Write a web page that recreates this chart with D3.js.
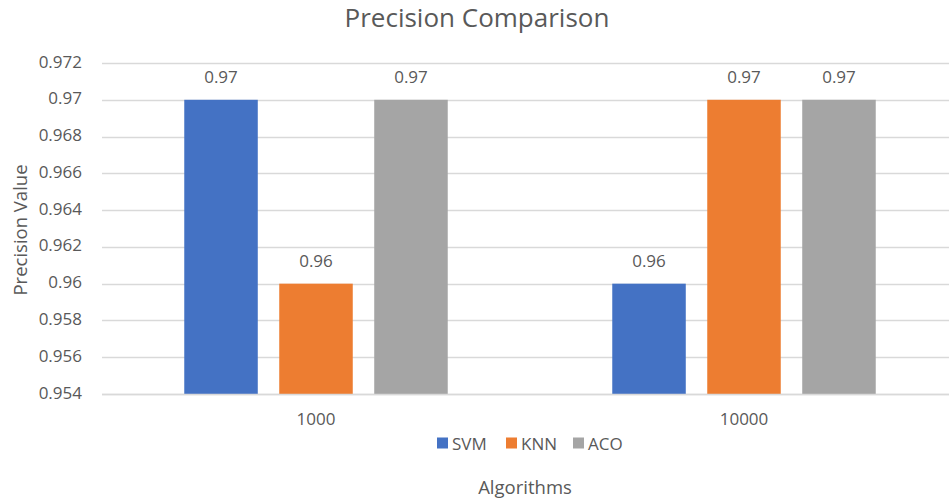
<!DOCTYPE html>
<html><head><meta charset="utf-8">
<script src="https://cdn.jsdelivr.net/npm/d3@7"></script>
<style>body{margin:0;background:#fff;} text{font-family:"Open Sans",sans-serif;}</style>
</head><body><svg id="c" width="949" height="499"></svg>
<script>
const categories = ["1000", "10000"];
const seriesNames = ["SVM", "KNN", "ACO"];
const svmValues = [0.97, 0.96];
const knnValues = [0.96, 0.97];
const acoValues = [0.97, 0.97];
const yTicks = [0.954, 0.956, 0.958, 0.96, 0.962, 0.964, 0.966, 0.968, 0.97, 0.972];
const yTickLabels = ["0.954", "0.956", "0.958", "0.96", "0.962", "0.964", "0.966", "0.968", "0.97", "0.972"];
const colors = ["#4472C4", "#ED7D31", "#A5A5A5"];

(function () {
const values = [svmValues, knnValues, acoValues];
const svg = d3.select("#c");
const pLeft = 102, pRight = 958, pTop = 63, pBottom = 394;
const txt = "#595959";
const fs = "17px";

const x0 = d3.scaleBand().domain(categories).range([pLeft, pRight]).paddingInner(0).paddingOuter(0);
const x1 = d3.scaleBand().domain(seriesNames).range([0, x0.bandwidth()]).paddingInner(0.226).paddingOuter(0.866);
const y = d3.scaleLinear().domain([0.954, 0.972]).range([pBottom, pTop]);

svg.append("g").selectAll("line").data(yTicks).join("line")
  .attr("x1", pLeft).attr("x2", pRight)
  .attr("y1", d => Math.round(y(d)) + 0.5).attr("y2", d => Math.round(y(d)) + 0.5)
  .attr("stroke", "#d9d9d9").attr("stroke-width", 1.3);

const yAxis = d3.axisLeft(y).tickValues(yTicks).tickFormat((d, i) => yTickLabels[i]).tickSize(0).tickPadding(0);
const ga = svg.append("g").attr("transform", `translate(82,0)`).call(yAxis);
ga.select(".domain").remove();
ga.selectAll("text").attr("fill", txt).attr("dy", "4px").style("font-size", fs).style("font-family", '"Open Sans",sans-serif');

const groups = svg.append("g").selectAll("g").data(categories).join("g")
  .attr("transform", d => `translate(${x0(d)},0)`);
groups.each(function(cat, ci) {
  const g = d3.select(this);
  seriesNames.forEach((s, si) => {
    const v = values[si][ci];
    g.append("rect").attr("x", x1(s)).attr("width", x1.bandwidth())
      .attr("y", y(v)).attr("height", y(0.954) - y(v)).attr("fill", colors[si]);
    g.append("text").attr("x", x1(s) + x1.bandwidth() / 2).attr("y", y(v) - 17)
      .attr("text-anchor", "middle").attr("fill", txt).style("font-size", fs).text(String(v));
  });
});

svg.append("line").attr("x1", pLeft).attr("x2", pRight).attr("y1", pBottom + 0.5).attr("y2", pBottom + 0.5).attr("stroke", "#d9d9d9").attr("stroke-width", 1.3);

const xAxis = d3.axisBottom(x0).tickSize(0).tickPadding(0);
const gx = svg.append("g").attr("transform", `translate(0,${pBottom + 31})`).call(xAxis);
gx.select(".domain").remove();
gx.selectAll("text").attr("fill", txt).style("font-size", fs).style("font-family", '"Open Sans",sans-serif').attr("dy", "0");

svg.append("text").attr("x", 477).attr("y", 27).attr("text-anchor", "middle").attr("fill", txt).style("font-size", "26px").text("Precision Comparison");

svg.append("text").attr("transform", "translate(27,230) rotate(-90)").attr("text-anchor", "middle").attr("fill", txt).style("font-size", "18.5px").text("Precision Value");

svg.append("text").attr("x", 525).attr("y", 494).attr("text-anchor", "middle").attr("fill", txt).style("font-size", "18.5px").text("Algorithms");

const legSq = [437, 506, 573];
const leg = svg.append("g").selectAll("g").data(seriesNames).join("g")
  .attr("transform", (d, i) => `translate(${legSq[i]},443)`);
leg.append("rect").attr("x", 0).attr("y", -5.5).attr("width", 11).attr("height", 11).attr("fill", (d, i) => colors[i]);
leg.append("text").attr("x", 15).attr("y", 7).attr("fill", txt).style("font-size", fs).text(d => d);
})();
</script></body></html>
